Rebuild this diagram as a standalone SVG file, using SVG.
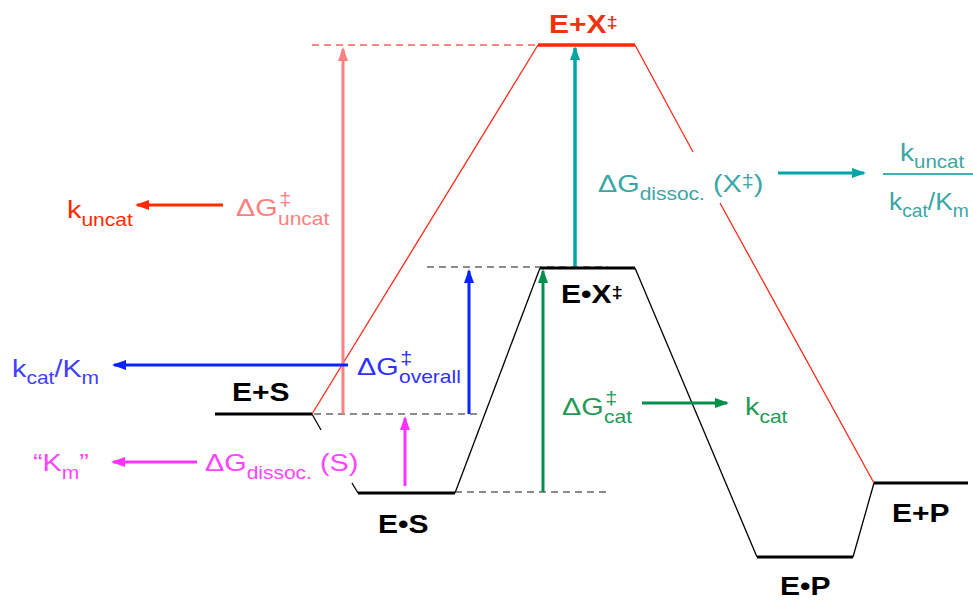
<svg xmlns="http://www.w3.org/2000/svg" width="973" height="600" viewBox="0 0 973 600">
<style>
text{font-family:"Liberation Sans",Arial,sans-serif;font-size:24px}
.b{font-weight:bold;font-size:25px}
.sub{font-size:17.5px}
.sup{font-size:18px}
.bsup{font-size:17px}
.lvl{stroke:#000;stroke-width:3;fill:none}
.thin{stroke:#000;stroke-width:1.3;fill:none}
.rthin{stroke:#ff2a1a;stroke-width:1.3;fill:none}
.dash{stroke:#8c8c8c;stroke-width:2;stroke-dasharray:7,5;fill:none}
.pdash{stroke:#ff8585;stroke-width:2;stroke-dasharray:7,5;fill:none}
</style>
<defs>
<marker id="aRed" markerUnits="userSpaceOnUse" markerWidth="14" markerHeight="14" viewBox="0 0 14 14" refX="12" refY="7" orient="auto"><path d="M0,2 L14,7 L0,12 Z" fill="#ff2a00"/></marker>
<marker id="aSal" markerUnits="userSpaceOnUse" markerWidth="14" markerHeight="14" viewBox="0 0 14 14" refX="12" refY="7" orient="auto"><path d="M0,2 L14,7 L0,12 Z" fill="#ff8080"/></marker>
<marker id="aBlue" markerUnits="userSpaceOnUse" markerWidth="14" markerHeight="14" viewBox="0 0 14 14" refX="12" refY="7" orient="auto"><path d="M0,2 L14,7 L0,12 Z" fill="#0a24ff"/></marker>
<marker id="aMag" markerUnits="userSpaceOnUse" markerWidth="14" markerHeight="14" viewBox="0 0 14 14" refX="12" refY="7" orient="auto"><path d="M0,2 L14,7 L0,12 Z" fill="#ff33ff"/></marker>
<marker id="aTeal" markerUnits="userSpaceOnUse" markerWidth="14" markerHeight="14" viewBox="0 0 14 14" refX="12" refY="7" orient="auto"><path d="M0,2 L14,7 L0,12 Z" fill="#00a6a6"/></marker>
<marker id="aGreen" markerUnits="userSpaceOnUse" markerWidth="14" markerHeight="14" viewBox="0 0 14 14" refX="12" refY="7" orient="auto"><path d="M0,2 L14,7 L0,12 Z" fill="#00904c"/></marker>
</defs>
<rect width="973" height="600" fill="#fff"/>

<g id="connectors">
  <line class="pdash" x1="312" y1="45" x2="536" y2="45"/>
  <line class="dash" x1="427" y1="267" x2="608" y2="267"/>
  <line class="dash" x1="314" y1="414" x2="478" y2="414"/>
  <line class="dash" x1="455" y1="492" x2="608" y2="492"/>
  <line class="thin" x1="312" y1="414" x2="321" y2="430"/>
  <line class="thin" x1="352" y1="483" x2="358" y2="493"/>
  <line class="thin" x1="455" y1="493" x2="540" y2="268"/>
  <line class="thin" x1="635" y1="268" x2="757" y2="557"/>
  <line class="thin" x1="853" y1="557" x2="874" y2="483"/>
  <line class="rthin" x1="312" y1="414" x2="538" y2="45"/>
  <line class="rthin" x1="635" y1="45" x2="693" y2="152"/>
  <line class="rthin" x1="720" y1="203" x2="874" y2="483"/>
  <line x1="343" y1="414" x2="343" y2="49" stroke="#ff8080" stroke-width="3" marker-end="url(#aSal)"/>
  <line x1="469" y1="414" x2="469" y2="271" stroke="#0a24ff" stroke-width="3" marker-end="url(#aBlue)"/>
  <line x1="405" y1="486" x2="405" y2="418" stroke="#ff33ff" stroke-width="3" marker-end="url(#aMag)"/>
  <line x1="575" y1="268" x2="575" y2="48" stroke="#00a6a6" stroke-width="3.5" marker-end="url(#aTeal)"/>
  <line x1="543" y1="492" x2="543" y2="271" stroke="#00904c" stroke-width="3" marker-end="url(#aGreen)"/>
  <line x1="223" y1="205" x2="137" y2="205" stroke="#ff2a00" stroke-width="3" marker-end="url(#aRed)"/>
  <line x1="348" y1="365" x2="114" y2="365" stroke="#0a24ff" stroke-width="3" marker-end="url(#aBlue)"/>
  <line x1="197" y1="462" x2="113" y2="462" stroke="#ff33ff" stroke-width="3" marker-end="url(#aMag)"/>
  <line x1="778" y1="173" x2="864" y2="173" stroke="#00a6a6" stroke-width="3" marker-end="url(#aTeal)"/>
  <line x1="642" y1="403" x2="727" y2="403" stroke="#00904c" stroke-width="3" marker-end="url(#aGreen)"/>
  <line x1="883" y1="174" x2="973" y2="174" stroke="#40b0b0" stroke-width="2"/>
</g>

<g id="ES">
  <line class="lvl" x1="215" y1="414" x2="312" y2="414"/>
  <text class="b" transform="translate(232,401) scale(1.2,1)">E+S</text>
</g>
<g id="ESc">
  <line class="lvl" x1="358" y1="493" x2="455" y2="493"/>
  <text class="b" transform="translate(378,533) scale(1.2,1)">E•S</text>
</g>
<g id="EXts">
  <line class="lvl" x1="540" y1="268" x2="635" y2="268"/>
  <text class="b" transform="translate(561,303) scale(1.2,1)">E•X<tspan class="bsup" dy="-5">‡</tspan></text>
</g>
<g id="EP">
  <line class="lvl" x1="757" y1="557" x2="853" y2="557"/>
  <text class="b" transform="translate(780,595) scale(1.2,1)">E•P</text>
</g>
<g id="EplusP">
  <line class="lvl" x1="874" y1="483" x2="968" y2="483"/>
  <text class="b" transform="translate(892,522) scale(1.2,1)">E+P</text>
</g>
<g id="EplusX">
  <line x1="538" y1="45" x2="635" y2="45" stroke="#ff2a00" stroke-width="3.5"/>
  <text class="b" fill="#ee3311" transform="translate(549,33) scale(1.2,1)">E+X<tspan class="bsup" dy="-5">‡</tspan></text>
</g>

<g id="kuncat">
  <text fill="#ff2a00" transform="translate(67,218) scale(1.2,1)">k<tspan class="sub" dy="8">uncat</tspan></text>
</g>
<g id="dGuncat" fill="#ff7f7f">
  <g transform="translate(236,216) scale(1.2,1)">
    <text>ΔG</text>
    <text class="sup" x="36" y="-11">‡</text>
    <text class="sub" x="35" y="9">uncat</text>
  </g>
</g>
<g id="kcatKm">
  <text fill="#4040ff" transform="translate(12,377) scale(1.2,1)">k<tspan class="sub" dy="7">cat</tspan><tspan dy="-7">/K</tspan><tspan class="sub" dy="7">m</tspan></text>
</g>
<g id="dGoverall" fill="#3030ff">
  <g transform="translate(357,375) scale(1.2,1)">
    <text>ΔG</text>
    <text class="sup" x="36" y="-11">‡</text>
    <text class="sub" x="35" y="8">overall</text>
  </g>
</g>
<g id="Km">
  <text fill="#ff44ff" transform="translate(33,471) scale(1.2,1)">“K<tspan class="sub" dy="8">m</tspan><tspan dy="-8">”</tspan></text>
</g>
<g id="dGdissocS">
  <text fill="#ff44ff" transform="translate(205,471) scale(1.2,1)">ΔG<tspan class="sub" dy="8">dissoc.</tspan><tspan dy="-8"> (S)</tspan></text>
</g>
<g id="dGdissocX">
  <text fill="#3aa6a6" transform="translate(598,192) scale(1.2,1)">ΔG<tspan class="sub" dy="8">dissoc.</tspan><tspan dy="-8"> (X</tspan><tspan class="sup" dy="-5">‡</tspan><tspan dy="5">)</tspan></text>
</g>
<g id="fraction" fill="#3aa6a6">
  <text transform="translate(900,161) scale(1.17,1)">k<tspan class="sub" dy="7">uncat</tspan></text>
  <text transform="translate(889,210) scale(1.1,1)">k<tspan class="sub" dy="7">cat</tspan><tspan dy="-7">/K</tspan><tspan class="sub" dy="7">m</tspan></text>
</g>
<g id="dGcat" fill="#229a55">
  <g transform="translate(562,415) scale(1.2,1)">
    <text>ΔG</text>
    <text class="sup" x="36" y="-11">‡</text>
    <text class="sub" x="35" y="8">cat</text>
  </g>
</g>
<g id="kcat">
  <text fill="#229a55" transform="translate(745,415) scale(1.2,1)">k<tspan class="sub" dy="8">cat</tspan></text>
</g>
</svg>
